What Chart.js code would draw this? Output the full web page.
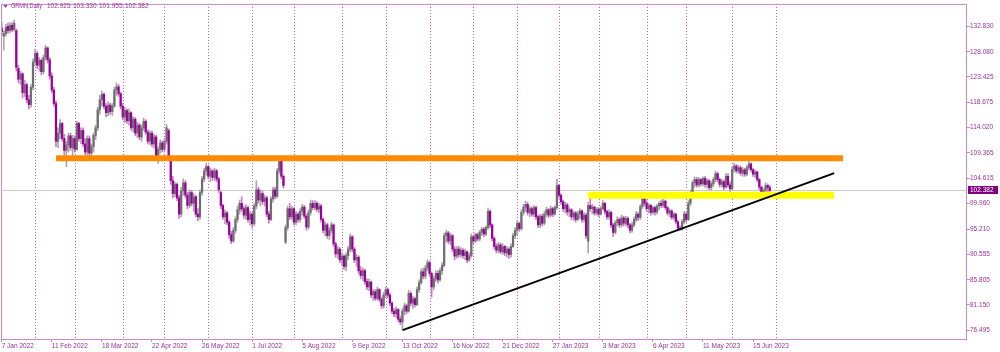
<!DOCTYPE html>
<html>
<head>
<meta charset="utf-8">
<script src="https://cdn.jsdelivr.net/npm/chart.js@4.4.0/dist/chart.umd.min.js"></script>
<style>
  html, body { margin: 0; padding: 0; background: #fff; }
  #wrap { width: 1000px; height: 352px; }
</style>
</head>
<body>
<div id="wrap"><canvas id="chart" width="1000" height="352"></canvas></div>
<script>
// GRMN daily, 7 Jan 2022 .. 28 Jun 2023 (one entry per trading day)
const symbolTitle = 'GRMN,Daily';

const dateLabels = ['7 Jan 2022', '11 Feb 2022', '18 Mar 2022', '22 Apr 2022', '26 May 2022', '1 Jul 2022',
  '5 Aug 2022', '9 Sep 2022', '13 Oct 2022', '16 Nov 2022', '21 Dec 2022', '27 Jan 2023', '3 Mar 2023',
  '6 Apr 2023', '11 May 2023', '15 Jun 2023'];
const dateLabelIdx = [0, 24, 48, 72, 96, 120, 144, 168, 192, 216, 240, 264, 288, 312, 336, 360];
// first trading day of each month (bar index)
const monthStartIdx = [16, 35, 58, 78, 99, 120, 140, 163, 184, 205, 226, 247, 267, 286, 309, 328, 350, 371];
const priceTicks = [132.830, 128.080, 123.425, 118.675, 114.020, 109.365, 104.615, 99.960, 95.210,
  90.555, 85.805, 81.150, 76.495];

const opens = [
  132.5,131.0,131.5,132.8,132.0,133.0,132.2,132.0,125.0,123.0,
  124.0,120.5,122.0,119.2,118.3,121.5,126.2,127.8,125.6,126.5,
  124.4,127.0,128.8,126.6,123.6,121.0,118.5,111.5,113.0,114.8,
  112.0,109.8,110.8,112.5,110.3,112.0,110.0,114.8,112.0,113.5,
  111.0,109.5,112.0,109.3,110.5,112.6,114.0,117.3,119.2,120.2,
  118.0,116.8,118.2,117.0,118.0,121.0,121.6,120.3,118.0,116.0,
  117.2,115.3,116.8,114.0,115.6,113.0,114.5,112.3,114.0,115.2,
  113.2,111.5,113.0,111.0,112.3,108.8,110.0,111.2,110.0,111.5,
  113.5,108.5,104.2,101.8,103.5,101.0,98.0,102.3,103.8,101.5,
  99.6,102.0,100.0,101.2,98.0,97.5,102.0,104.5,106.0,106.8,
  105.0,106.0,104.8,106.0,104.5,102.0,99.6,97.5,98.2,96.5,
  94.2,93.0,95.0,97.0,98.8,100.0,99.0,97.8,99.2,97.0,
  98.0,96.2,99.5,102.5,100.6,101.8,100.3,101.0,98.0,97.0,
  100.8,102.5,101.3,106.0,107.8,105.0,92.8,95.5,99.0,97.5,
  99.0,96.5,98.0,97.0,98.5,99.3,97.6,95.6,98.3,100.0,
  99.2,100.0,98.9,99.5,97.0,95.0,96.0,94.0,95.0,96.0,
  92.5,90.6,91.5,89.5,90.2,88.3,90.3,91.5,93.8,91.5,
  89.5,90.0,87.5,86.6,87.5,85.5,84.5,85.4,83.0,83.6,
  82.4,84.0,82.2,81.0,83.0,84.0,83.0,81.5,80.0,79.5,
  80.3,78.5,78.0,80.0,81.0,80.0,83.3,81.5,82.3,81.2,
  84.0,85.3,87.3,86.5,88.0,89.0,87.0,84.5,86.0,87.0,
  85.8,87.5,88.5,94.0,94.5,93.0,94.0,91.5,90.2,91.5,
  90.5,91.3,90.3,91.0,89.5,90.3,93.8,93.0,94.2,93.4,
  94.6,95.2,94.3,95.5,98.5,96.0,93.5,92.0,91.3,92.3,
  91.0,92.0,90.8,91.5,90.5,92.0,94.0,95.0,96.3,95.3,
  98.3,99.3,99.8,98.3,99.0,98.0,99.2,97.5,96.0,97.6,
  96.3,98.0,98.8,97.8,99.0,98.0,99.2,103.3,101.5,100.3,
  99.0,99.7,98.4,98.8,97.5,98.2,97.0,98.0,98.6,97.0,
  97.8,93.0,99.6,99.0,99.3,98.2,98.9,98.0,99.0,100.0,
  98.5,97.5,98.3,96.0,94.6,96.4,97.0,96.0,97.3,96.3,
  97.2,96.0,95.0,96.0,97.0,98.0,97.4,99.4,101.0,100.0,
  99.0,99.6,98.3,99.2,98.4,99.5,100.0,99.6,100.4,99.2,
  98.2,98.6,97.4,98.0,96.6,95.4,95.2,96.6,98.0,97.0,
  100.0,102.0,103.8,104.4,103.4,104.4,103.6,104.6,103.5,104.2,
  102.9,103.6,104.4,105.5,104.4,103.5,104.0,103.0,105.0,103.4,
  102.7,106.3,106.9,106.0,106.6,105.6,106.2,105.4,106.6,107.3,
  106.2,105.4,105.8,104.4,103.0,101.6,102.4,103.3,102.925
];
const highs = [
  133.6,132.0,133.2,133.4,133.5,133.5,134.0,132.3,125.6,124.5,
  124.2,122.8,122.3,120.0,122.0,126.8,128.6,128.2,127.0,126.8,
  127.5,129.3,129.0,127.0,124.2,121.5,119.0,114.0,115.5,115.0,
  112.8,111.5,113.0,113.0,112.6,112.5,115.2,115.0,114.0,114.0,
  112.0,112.5,112.5,111.0,113.0,114.5,117.8,120.0,120.8,120.5,
  118.5,118.8,118.6,118.5,121.5,122.3,122.0,120.6,118.5,117.8,
  117.5,117.5,117.0,116.0,115.9,115.0,114.8,114.5,115.8,115.5,
  113.6,113.5,113.4,112.8,112.6,110.5,111.8,111.6,112.0,114.6,
  113.8,108.8,105.0,104.0,103.8,101.5,103.0,104.5,104.2,102.0,
  102.5,102.4,101.8,101.5,99.0,102.5,105.0,106.5,107.4,107.0,
  106.5,106.3,106.5,106.3,104.8,102.3,99.8,98.8,98.5,96.8,
  94.8,95.5,97.5,99.5,100.6,101.2,99.5,99.8,99.5,98.5,
  98.3,100.0,104.2,103.0,102.5,102.2,101.5,101.3,98.5,101.2,
  103.0,103.0,106.5,108.3,108.1,105.3,96.0,99.5,100.0,99.5,
  99.2,98.5,98.3,99.0,99.8,99.6,98.0,98.8,100.6,100.5,
  100.5,100.3,100.0,99.8,97.3,96.5,96.3,95.5,96.5,96.2,
  92.8,92.0,91.8,90.8,90.5,90.8,92.0,94.3,94.0,91.8,
  90.5,90.3,88.3,88.0,87.8,86.0,86.0,85.6,84.0,84.0,
  84.5,84.2,82.6,83.5,84.5,84.3,83.4,81.8,80.5,80.8,
  80.5,79.0,80.5,81.5,81.3,83.9,83.6,82.8,82.6,84.5,
  85.8,87.8,88.0,88.5,89.5,89.3,87.3,86.5,87.5,87.5,
  88.0,89.0,94.5,95.0,94.8,94.5,94.2,92.0,92.0,92.0,
  91.8,91.6,91.5,91.2,90.8,94.3,94.0,94.5,94.5,95.0,
  95.5,95.5,95.8,99.1,98.8,96.2,93.8,92.5,92.8,92.6,
  92.5,92.2,92.0,91.8,92.5,94.5,95.5,96.8,96.5,98.8,
  99.8,100.4,100.2,99.5,99.3,99.6,99.5,97.8,98.0,98.0,
  98.5,99.3,99.0,99.5,99.3,99.5,104.5,103.5,101.8,100.6,
  100.2,100.0,99.2,99.0,98.5,98.5,98.5,99.0,98.8,98.3,
  98.2,100.2,101.0,99.8,99.5,99.2,99.2,99.4,100.5,100.2,
  98.8,98.8,98.5,96.3,96.8,97.5,97.3,97.8,97.6,97.6,
  97.5,96.3,96.5,97.5,98.5,98.3,99.8,101.7,101.3,100.5,
  100.0,99.8,99.5,99.5,99.8,100.3,100.6,100.8,100.6,99.4,
  99.0,98.8,98.3,98.2,96.8,95.8,97.0,98.5,98.3,100.5,
  102.4,104.2,104.9,104.8,104.8,104.6,104.9,105.0,104.6,104.4,
  104.0,104.8,106.0,105.8,104.7,104.5,104.3,105.5,105.5,104.0,
  106.8,107.4,107.2,107.0,106.9,106.6,106.5,107.0,107.8,107.5,
  106.5,106.2,106.0,104.6,103.2,102.8,103.8,103.6,103.33
];
const lows = [
  131.2,128.4,131.0,131.5,131.6,131.8,131.9,124.5,122.3,122.0,
  119.5,119.8,118.6,117.5,117.8,121.0,125.5,125.0,124.5,123.8,
  124.0,126.5,126.0,123.0,120.5,118.0,110.5,110.3,112.0,111.5,
  109.0,106.8,109.5,109.8,108.5,109.5,109.8,111.5,111.0,110.5,
  109.0,108.5,108.8,108.0,109.5,111.8,113.5,116.5,118.0,117.5,
  116.0,116.2,116.5,116.3,117.8,120.0,119.8,117.5,115.5,115.0,
  114.8,114.5,113.5,113.2,112.5,112.2,111.8,111.5,113.5,112.8,
  111.0,110.8,110.5,110.2,108.0,107.4,109.3,109.5,109.5,111.0,
  108.0,103.5,101.0,101.2,100.5,97.2,97.5,101.5,101.0,99.0,
  99.2,99.5,98.5,97.5,96.8,97.0,101.5,104.0,105.2,104.5,
  104.0,104.3,104.2,104.0,102.0,99.0,97.0,96.2,96.0,93.5,
  92.5,92.8,94.5,96.5,98.0,98.5,97.2,97.0,96.5,96.0,
  95.5,95.8,99.0,100.0,99.5,99.8,99.5,97.5,96.3,96.8,
  100.2,100.8,101.0,105.5,104.5,102.8,92.5,95.0,97.0,97.0,
  96.0,96.0,96.5,96.5,97.8,97.2,95.0,95.2,97.8,98.8,
  98.8,98.5,98.2,96.5,94.5,94.0,93.5,93.3,94.5,92.0,
  90.0,89.8,89.0,88.5,87.8,87.5,89.6,91.0,91.0,89.0,
  88.3,87.0,86.0,85.7,85.0,84.0,83.8,82.5,82.0,82.0,
  82.0,81.8,80.5,80.6,82.5,82.5,81.0,79.5,79.0,78.8,
  78.0,77.5,76.5,79.3,79.5,79.8,81.0,80.5,80.8,81.0,
  83.5,85.0,86.0,86.0,87.5,86.5,82.6,84.0,85.5,85.2,
  85.5,86.8,88.2,92.8,92.5,92.3,91.0,89.5,89.8,90.0,
  90.0,89.8,89.5,89.0,89.2,90.0,92.5,92.8,93.0,93.0,
  94.0,93.8,94.0,95.2,95.5,93.0,91.5,90.8,90.8,90.7,
  90.5,90.3,90.0,89.8,90.0,91.8,93.5,94.2,94.8,95.0,
  97.8,98.5,97.8,97.5,97.6,97.5,97.0,95.5,95.5,95.8,
  96.0,97.5,97.3,97.5,97.5,97.8,98.8,101.0,99.8,98.5,
  98.2,97.8,97.5,97.0,96.8,96.5,96.8,97.2,96.5,96.5,
  93.5,90.8,98.5,98.0,97.8,97.8,97.5,97.8,98.8,98.0,
  97.0,97.0,95.5,93.8,94.3,95.8,95.5,95.6,95.8,95.8,
  95.5,94.5,94.6,95.6,96.6,96.8,97.0,99.0,99.5,98.5,
  98.2,97.8,98.0,97.8,98.0,98.8,99.2,99.2,98.8,97.8,
  97.5,97.0,97.0,96.2,95.0,95.0,95.0,96.2,96.5,96.8,
  99.6,101.6,103.0,103.0,103.0,103.2,103.2,103.0,102.8,102.5,
  102.4,103.2,104.0,104.0,103.0,103.0,102.5,102.8,103.0,102.2,
  102.5,105.8,105.6,105.5,105.2,105.0,105.0,105.1,106.2,105.8,
  105.0,104.8,104.0,102.5,101.3,101.0,102.0,102.0,101.955
];
const closes = [
  131.8,131.5,132.6,132.0,133.0,132.2,133.4,125.2,123.0,124.0,
  120.5,122.0,119.2,118.3,121.5,126.2,127.8,125.6,126.5,124.4,
  127.0,128.8,126.6,123.6,121.0,118.5,111.5,113.0,114.8,112.0,
  109.8,110.8,112.5,110.3,112.0,110.0,114.8,112.0,113.5,111.0,
  109.5,112.0,109.3,110.5,112.6,114.0,117.3,119.2,120.2,118.0,
  116.8,118.2,117.0,118.0,121.0,121.6,120.3,118.0,116.0,117.2,
  115.3,116.8,114.0,115.6,113.0,114.5,112.3,114.0,115.2,113.2,
  111.5,113.0,111.0,112.3,108.8,110.0,111.2,110.0,111.5,114.0,
  108.5,104.2,101.8,103.5,101.0,98.0,102.3,103.8,101.5,99.6,
  102.0,100.0,101.2,98.0,97.5,102.0,104.5,106.0,106.8,105.0,
  106.0,104.8,106.0,104.5,102.5,99.6,97.5,98.2,96.5,94.2,
  93.0,95.0,97.0,98.8,100.0,99.0,97.8,99.2,97.0,98.0,
  96.2,99.5,102.5,100.6,101.8,100.3,101.0,98.0,97.0,100.8,
  102.5,101.3,106.0,107.8,105.0,103.3,95.5,99.0,97.5,99.0,
  96.5,98.0,97.0,98.5,99.3,97.6,95.6,98.3,100.0,99.2,
  100.0,98.9,99.5,97.0,95.0,96.0,94.0,95.0,96.0,92.5,
  90.6,91.5,89.5,90.2,88.3,90.3,91.5,93.8,91.5,89.5,
  90.0,87.5,86.6,87.5,85.5,84.5,85.4,83.0,83.6,82.4,
  84.0,82.2,81.0,83.0,84.0,83.0,81.5,80.0,79.5,80.3,
  78.5,78.0,80.0,81.0,80.0,83.3,81.5,82.3,81.2,84.0,
  85.3,87.3,86.5,88.0,89.0,87.0,84.5,86.0,87.0,85.8,
  87.5,88.5,94.0,94.5,93.0,94.0,91.5,90.2,91.5,90.5,
  91.3,90.3,91.0,89.5,90.3,93.8,93.0,94.2,93.4,94.6,
  95.2,94.3,95.5,98.5,96.0,93.5,92.0,91.3,92.3,91.0,
  92.0,90.8,91.5,90.5,92.0,94.0,95.0,96.3,95.3,98.3,
  99.3,99.8,98.3,99.0,98.0,99.2,97.5,96.0,97.6,96.3,
  98.0,98.8,97.8,99.0,98.0,99.2,103.3,101.5,100.3,99.0,
  99.7,98.4,98.8,97.5,98.2,97.0,98.0,98.6,97.0,97.8,
  94.0,99.6,99.0,99.3,98.2,98.9,98.0,99.0,100.0,98.5,
  97.5,98.3,96.0,94.6,96.4,97.0,96.0,97.3,96.3,97.2,
  96.0,95.0,96.0,97.0,98.0,97.4,99.4,101.0,100.0,99.0,
  99.6,98.3,99.2,98.4,99.5,100.0,99.6,100.4,99.2,98.2,
  98.6,97.4,98.0,96.6,95.4,95.2,96.6,98.0,97.0,100.0,
  102.0,103.8,104.4,103.4,104.4,103.6,104.6,103.5,104.2,102.9,
  103.6,104.4,105.5,104.4,103.5,104.0,103.0,105.0,103.4,102.7,
  106.3,106.9,106.0,106.6,105.6,106.2,105.4,106.6,107.3,106.2,
  105.4,105.8,104.4,103.0,101.6,102.4,103.3,102.9,102.382
];

// drawn objects: [bar index, price] at both ends
const resistanceX = [26.0, 403.1];
const resistanceY = [108.34, 108.34];
const supportZoneX = [280.8, 398.8];
const supportZoneY = [101.5, 101.5];
const trendX = [192.1, 398.9];
const trendY = [76.495, 105.6];

const FRAME = '#c88ac8';
const TEXT = '#993399';
const GRIDDOT = '#c24ec2';
const BULL_BODY = '#6e6e6e';
const BULL_WICK = '#a6a6a6';
const BEAR_BODY = '#990099';
const BEAR_WICK = '#cc7acc';

Chart.defaults.font.family = "'Liberation Sans', Arial, sans-serif";
Chart.defaults.font.size = 6.5;
Chart.defaults.color = TEXT;

const barIdx = closes.map((_, i) => i);
const isBull = i => closes[i] >= opens[i];
const wickData = barIdx.map(i => ({ x: i, y: [lows[i], highs[i]] }));
const bodyData = barIdx.map(i => ({ x: i, y: [opens[i], closes[i]] }));
const pts = (xs, ys) => xs.map((x, k) => ({ x: x, y: ys[k] }));

const backdropPlugin = {
  id: 'backdrop',
  beforeDatasetsDraw(chart) {
    const { ctx, chartArea: a, scales: { x, y } } = chart;
    ctx.save();
    // month separators
    ctx.strokeStyle = GRIDDOT;
    ctx.lineWidth = 1;
    ctx.setLineDash([1, 2]);
    monthStartIdx.forEach(m => {
      const px = Math.round(x.getPixelForValue(m)) + 0.5;
      ctx.beginPath();
      ctx.moveTo(px, a.top);
      ctx.lineTo(px, a.bottom);
      ctx.stroke();
    });
    ctx.setLineDash([]);
    // last price line
    const py = Math.round(y.getPixelForValue(closes[closes.length - 1])) + 0.5;
    ctx.strokeStyle = '#cbcbcb';
    ctx.beginPath();
    ctx.moveTo(a.left, py);
    ctx.lineTo(a.right, py);
    ctx.stroke();
    ctx.restore();
  },
  afterDraw(chart) {
    const { ctx, chartArea: a, scales: { y } } = chart;
    ctx.save();
    ctx.strokeStyle = FRAME;
    ctx.lineWidth = 1;
    ctx.strokeRect(a.left + 0.5, a.top + 0.5, a.right - a.left - 1, a.bottom - a.top - 1);

    // title
    ctx.fillStyle = TEXT;
    ctx.beginPath();
    ctx.moveTo(3.5, 5);
    ctx.lineTo(7.5, 5);
    ctx.lineTo(5.5, 8);
    ctx.closePath();
    ctx.fill();
    ctx.font = "6.5px 'Liberation Sans', Arial, sans-serif";
    ctx.textBaseline = 'middle';
    ctx.textAlign = 'left';
    ctx.fillText(symbolTitle, 11, 6.5, 31);
    const last = closes.length - 1;
    const ohlc = [opens[last], highs[last], lows[last], closes[last]];
    ohlc.forEach((v, k) => ctx.fillText(v.toFixed(3), 47 + k * 26, 6.5));

    // last price tag on the axis
    const py = Math.round(y.getPixelForValue(closes[last]));
    ctx.fillStyle = '#800080';
    ctx.fillRect(a.right + 1, py - 4, 30, 8);
    ctx.fillStyle = '#ffffff';
    ctx.fillText(closes[last].toFixed(3), a.right + 3, py + 0.5);
    ctx.restore();
  }
};

new Chart(document.getElementById('chart'), {
  type: 'bar',
  data: {
    datasets: [
      {
        type: 'line', data: pts(trendX, trendY), borderColor: '#000000', borderWidth: 2,
        pointRadius: 0, borderCapStyle: 'butt', order: 1
      },
      {
        type: 'line', data: pts(resistanceX, resistanceY), borderColor: '#ff8c00', borderWidth: 6,
        pointRadius: 0, borderCapStyle: 'butt', order: 2
      },
      {
        type: 'line', data: pts(supportZoneX, supportZoneY), borderColor: '#ffff00', borderWidth: 7,
        pointRadius: 0, borderCapStyle: 'butt', order: 3
      },
      {
        data: bodyData, grouped: false, barThickness: 1.6, minBarLength: 1, borderWidth: 0,
        backgroundColor: c => isBull(c.dataIndex) ? BULL_BODY : BEAR_BODY, order: 7
      },
      {
        data: wickData, grouped: false, barThickness: 1, borderWidth: 0,
        backgroundColor: c => isBull(c.dataIndex) ? BULL_WICK : BEAR_WICK, order: 8
      }
    ]
  },
  options: {
    responsive: false,
    animation: false,
    events: [],
    layout: { padding: { left: 1, top: 1, right: 0, bottom: 0 } },
    plugins: { legend: { display: false }, tooltip: { enabled: false } },
    scales: {
      x: {
        type: 'linear',
        min: -0.335,
        max: 462.5,
        offset: false,
        grid: { display: true, drawOnChartArea: false, drawTicks: true, tickLength: 2, color: FRAME, offset: false },
        border: { display: false },
        afterBuildTicks: s => { s.ticks = dateLabelIdx.map(v => ({ value: v })); },
        afterFit: s => { s.height = 12; },
        ticks: {
          autoSkip: false, maxRotation: 0, align: 'start', padding: 0, color: TEXT,
          callback: (v, i) => dateLabels[i]
        }
      },
      y: {
        type: 'linear',
        position: 'right',
        min: 74.657,
        max: 136.966,
        grid: { display: true, drawOnChartArea: false, drawTicks: true, tickLength: 3, color: FRAME },
        border: { display: false },
        afterBuildTicks: s => { s.ticks = priceTicks.map(v => ({ value: v })); },
        afterFit: s => { s.width = 33; },
        ticks: { padding: 0, color: TEXT, callback: v => v.toFixed(3) }
      }
    }
  },
  plugins: [backdropPlugin]
});
</script>
</body>
</html>
